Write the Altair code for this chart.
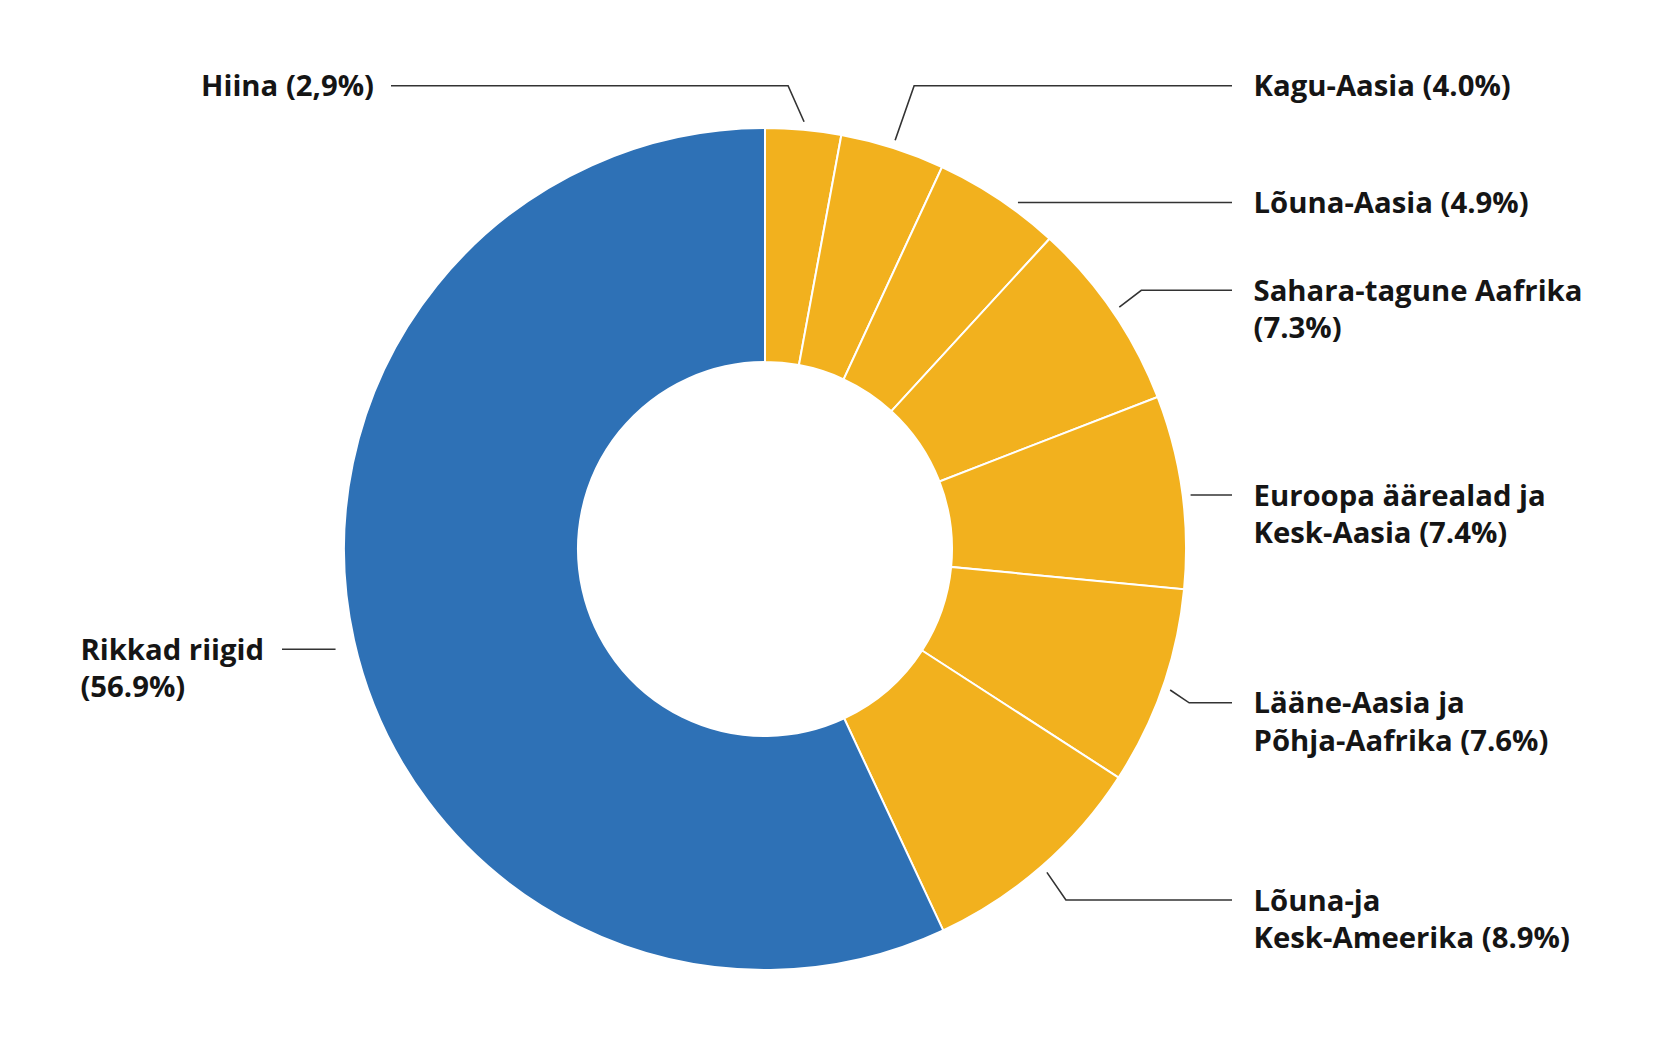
import math
import altair as alt
import pandas as pd

# ---- data ----
names = ["Hiina", "Kagu-Aasia", "Lõuna-Aasia", "Sahara-tagune Aafrika",
         "Euroopa äärealad ja Kesk-Aasia", "Lääne-Aasia ja Põhja-Aafrika",
         "Lõuna-ja Kesk-Ameerika", "Rikkad riigid"]
values = [2.9, 4.0, 4.9, 7.3, 7.4, 7.6, 8.9, 56.9]
groups = ["arenev", "arenev", "arenev", "arenev", "arenev", "arenev", "arenev", "rikas"]
label_lines = [
    ["Hiina (2,9%)"],
    ["Kagu-Aasia (4.0%)"],
    ["Lõuna-Aasia (4.9%)"],
    ["Sahara-tagune Aafrika", "(7.3%)"],
    ["Euroopa äärealad ja", "Kesk-Aasia (7.4%)"],
    ["Lääne-Aasia ja", "Põhja-Aafrika (7.6%)"],
    ["Lõuna-ja", "Kesk-Ameerika (8.9%)"],
    ["Rikkad riigid", "(56.9%)"],
]

# ---- layout (pixels relative to the donut centre, y up) ----
W, H = 1664, 1024
CX, CY = 757, 541          # centre inside the plot area
R_OUT, R_IN = 421, 187
LINE_H = 37.3
TEXT_DY = -1.5
label_y = [463.3, 463.3, 346.5, 258.7, 54.0, -153.8, -351.0, -100.3]
text_x = [-391, 488.5, 488.5, 488.5, 488.5, 488.5, 488.5, -684.6]
text_align = ["right", "left", "left", "left", "left", "left", "left", "left"]
line_end_x = [-374, 467, 467, 467, 467, 467, 467, -483]
elbow_dx = [-16, 19, None, 22, None, 19, 19, None]
leader_r = [429, 429, 429, 429, 429, 429, 429, 441]

xscale = alt.Scale(domain=[-CX, W - CX], nice=False, zero=False)
yscale = alt.Scale(domain=[-(H - CY), CY], nice=False, zero=False)

slices = pd.DataFrame({"name": names, "value": values, "group": groups,
                       "idx": list(range(len(names)))})

# leader lines derived from slice angles
total = sum(values)
rows = []
cum = 0.0
for i, v in enumerate(values):
    mid = (cum + v / 2) / total * 2 * math.pi
    cum += v
    ly = label_y[i]
    if elbow_dx[i] is not None:
        sx = leader_r[i] * math.sin(mid)
        sy = leader_r[i] * math.cos(mid)
        pts = [(sx, sy), (sx + elbow_dx[i], ly), (line_end_x[i], ly)]
    else:
        sign = 1 if math.sin(mid) >= 0 else -1
        sx = sign * math.sqrt(leader_r[i] ** 2 - ly ** 2)
        pts = [(sx, ly), (line_end_x[i], ly)]
    for k, (px, py) in enumerate(pts):
        rows.append({"id": i, "k": k, "x": px, "y": py})
leaders = pd.DataFrame(rows)

trows = []
for i, lines in enumerate(label_lines):
    for j, t in enumerate(lines):
        trows.append({"text": t, "x": text_x[i],
                      "y": label_y[i] + TEXT_DY - j * LINE_H,
                      "align": text_align[i]})
texts = pd.DataFrame(trows)

arcs = alt.Chart(slices).mark_arc(
    radius=R_OUT, radius2=R_IN, stroke="white", strokeWidth=2
).encode(
    theta=alt.Theta("value:Q", stack=True),
    order=alt.Order("idx:Q"),
    color=alt.Color("group:N", scale=alt.Scale(domain=["arenev", "rikas"],
                                               range=["#F2B11E", "#2E71B6"]),
                    legend=None),
    x=alt.X(datum=0, type="quantitative", scale=xscale, axis=None),
    y=alt.Y(datum=0, type="quantitative", scale=yscale, axis=None),
)

lines_layer = alt.Chart(leaders).mark_line(color="#333333", strokeWidth=1.6).encode(
    x=alt.X("x:Q", scale=xscale, axis=None),
    y=alt.Y("y:Q", scale=yscale, axis=None),
    detail="id:N",
    order="k:Q",
)

def text_layer(al):
    return alt.Chart(texts).transform_filter(
        alt.datum.align == al
    ).mark_text(
        align=al, baseline="middle", font="Open Sans", fontWeight="bold",
        fontSize=29.3, color="#151515"
    ).encode(
        x=alt.X("x:Q", scale=xscale, axis=None),
        y=alt.Y("y:Q", scale=yscale, axis=None),
        text="text:N",
    )

chart = alt.layer(arcs, lines_layer, text_layer("left"), text_layer("right")).properties(
    width=W, height=H, padding=0, autosize=alt.AutoSizeParams(type="none"),
    background="white"
).configure_view(stroke=None)

chart.save("out.html", embed_options={"renderer": "svg", "actions": False})
